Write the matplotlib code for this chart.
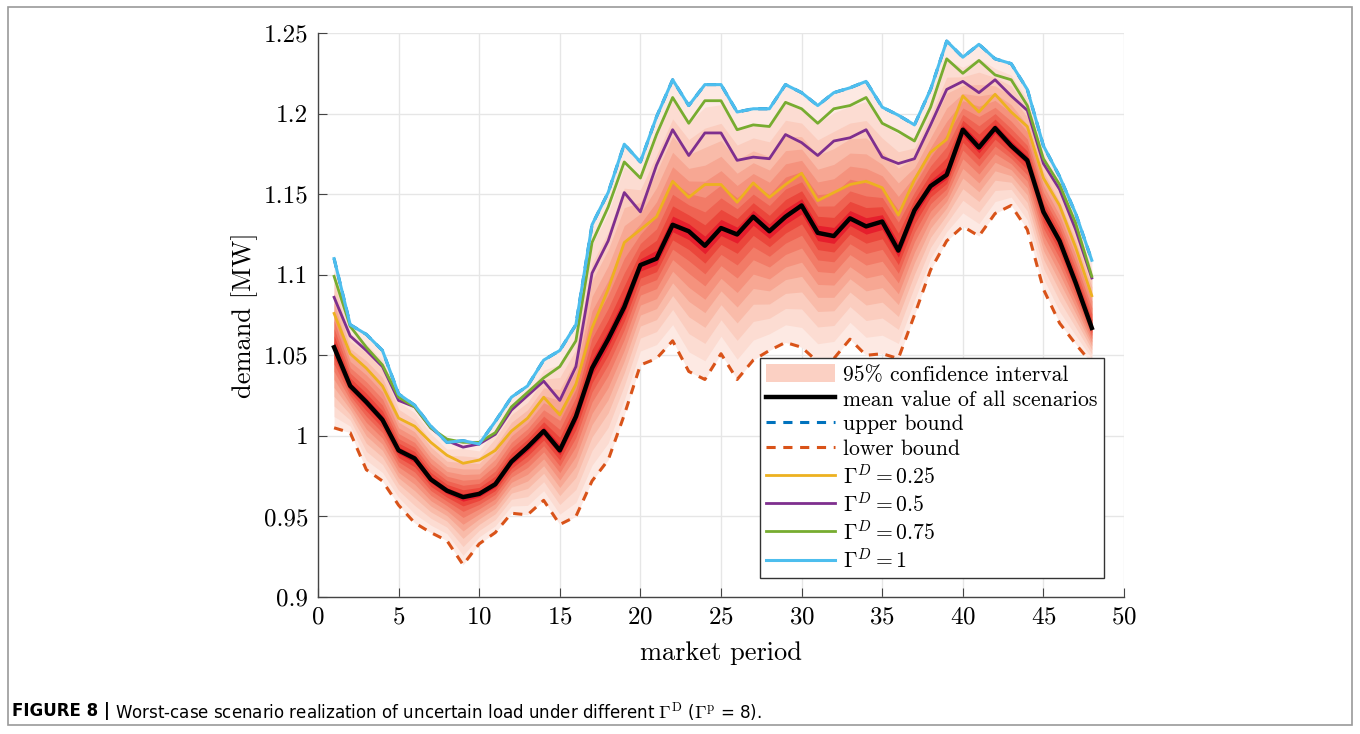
import numpy as np
import matplotlib
matplotlib.use('Agg')
import matplotlib.pyplot as plt
from matplotlib.patches import Patch, Rectangle
from matplotlib.lines import Line2D
from matplotlib.ticker import FuncFormatter

plt.rcParams['font.family'] = 'serif'
plt.rcParams['font.serif'] = ['cmr10']
plt.rcParams['mathtext.fontset'] = 'cm'
plt.rcParams['axes.formatter.use_mathtext'] = True

# market periods 1..48
period = np.arange(1, 49)

mean_val = [1.055, 1.031, 1.021, 1.010, 0.991, 0.986, 0.973, 0.966, 0.962, 0.964,
            0.970, 0.984, 0.993, 1.003, 0.991, 1.012, 1.042, 1.060, 1.080, 1.106,
            1.110, 1.131, 1.127, 1.118, 1.129, 1.125, 1.136, 1.127, 1.136, 1.143,
            1.126, 1.124, 1.135, 1.130, 1.133, 1.115, 1.140, 1.155, 1.162, 1.190,
            1.179, 1.191, 1.180, 1.171, 1.139, 1.121, 1.095, 1.067]

gamma_025 = [1.076, 1.051, 1.042, 1.031, 1.011, 1.006, 0.996, 0.988, 0.983, 0.985,
             0.991, 1.003, 1.011, 1.024, 1.013, 1.032, 1.067, 1.091, 1.120, 1.128,
             1.136, 1.158, 1.148, 1.156, 1.156, 1.145, 1.157, 1.148, 1.156, 1.163,
             1.146, 1.151, 1.156, 1.158, 1.154, 1.137, 1.159, 1.176, 1.184, 1.211,
             1.201, 1.212, 1.201, 1.192, 1.160, 1.143, 1.117, 1.087]

gamma_05 = [1.086, 1.062, 1.053, 1.043, 1.022, 1.018, 1.005, 0.997, 0.993, 0.995,
            1.001, 1.016, 1.025, 1.034, 1.022, 1.043, 1.101, 1.121, 1.151, 1.139,
            1.168, 1.190, 1.174, 1.188, 1.188, 1.171, 1.173, 1.172, 1.187, 1.182,
            1.174, 1.183, 1.185, 1.190, 1.173, 1.169, 1.172, 1.193, 1.215, 1.220,
            1.213, 1.221, 1.211, 1.202, 1.169, 1.153, 1.128, 1.098]

gamma_075 = [1.099, 1.068, 1.055, 1.044, 1.024, 1.018, 1.005, 0.998, 0.996, 0.996,
             1.002, 1.018, 1.027, 1.036, 1.043, 1.059, 1.120, 1.142, 1.170, 1.160,
             1.187, 1.210, 1.194, 1.208, 1.208, 1.190, 1.193, 1.192, 1.207, 1.203,
             1.194, 1.203, 1.205, 1.210, 1.194, 1.189, 1.183, 1.204, 1.234, 1.225,
             1.233, 1.224, 1.221, 1.205, 1.172, 1.156, 1.132, 1.099]

gamma_1 = [1.110, 1.069, 1.063, 1.053, 1.026, 1.019, 1.006, 0.996, 0.997, 0.995,
           1.009, 1.024, 1.031, 1.047, 1.053, 1.069, 1.131, 1.151, 1.181, 1.170,
           1.198, 1.221, 1.205, 1.218, 1.218, 1.201, 1.203, 1.203, 1.218, 1.213,
           1.205, 1.213, 1.216, 1.220, 1.204, 1.199, 1.193, 1.215, 1.245, 1.235,
           1.243, 1.234, 1.231, 1.215, 1.180, 1.161, 1.138, 1.109]

lower_bound = [1.005, 1.002, 0.979, 0.972, 0.957, 0.946, 0.940, 0.935, 0.920, 0.933,
               0.940, 0.952, 0.951, 0.960, 0.945, 0.950, 0.972, 0.985, 1.013, 1.044,
               1.048, 1.059, 1.040, 1.035, 1.051, 1.035, 1.047, 1.053, 1.058, 1.055,
               1.046, 1.048, 1.060, 1.050, 1.051, 1.048, 1.075, 1.103, 1.121, 1.130,
               1.124, 1.138, 1.143, 1.128, 1.091, 1.070, 1.057, 1.045]

# upper bound coincides with the Gamma^D = 1 curve
upper_bound = gamma_1

# fan shading: share of the distance from the mean to the bounds, outer to inner
band_levels = [1.0, 0.86, 0.73, 0.61, 0.5, 0.4, 0.3, 0.21, 0.13, 0.06]
band_colors = ['#fde9e3', '#fcdcd2', '#fbcdbf', '#f9bba9', '#f7a793',
               '#f5927d', '#f27b67', '#ef6352', '#eb463b', '#e61e2c']

fig = plt.figure(figsize=(13.6, 7.34), dpi=100)
ax = fig.add_axes([0.2338, 0.1866, 0.5927, 0.7684])

m = np.array(mean_val)
lo = np.array(lower_bound)
up = np.array(upper_bound)
for lev, col in zip(band_levels, band_colors):
    ax.fill_between(period, m - lev * (m - lo), m + lev * (up - m),
                    color=col, linewidth=0, zorder=1)

ax.plot(period, upper_bound, color='#0072BD', lw=2.2, ls=(0, (3, 2.5)), zorder=2)
ax.plot(period, lower_bound, color='#D95319', lw=2.2, ls=(0, (3, 2.5)), zorder=2)
ax.plot(period, gamma_025, color='#EDB120', lw=2.0, zorder=3)
ax.plot(period, gamma_05, color='#7E2F8E', lw=2.0, zorder=3)
ax.plot(period, gamma_075, color='#77AC30', lw=2.0, zorder=3)
ax.plot(period, gamma_1, color='#4DBEEE', lw=2.2, zorder=3)
ax.plot(period, mean_val, color='black', lw=3.2, zorder=4)

ax.set_xlim(0, 50)
ax.set_ylim(0.9, 1.25)
ax.set_xticks(np.arange(0, 51, 5))
ax.set_yticks([0.9, 0.95, 1.0, 1.05, 1.1, 1.15, 1.2, 1.25])
ax.yaxis.set_major_formatter(FuncFormatter(lambda v, p: '%g' % round(v, 2)))
ax.grid(True, color='#e6e6e6', lw=1.0, zorder=0)
ax.set_axisbelow(True)
for s in ['top', 'right']:
    ax.spines[s].set_visible(False)
for s in ['left', 'bottom']:
    ax.spines[s].set_color('#444444')
    ax.spines[s].set_linewidth(1.0)
ax.tick_params(direction='in', length=6.5, width=0.8, color='#444444',
               labelsize=18, pad=7)
ax.set_xlabel('market period', fontsize=19, labelpad=9)
ax.set_ylabel('demand [MW]', fontsize=19, labelpad=4)

handles = [
    Patch(facecolor='#fbd0c3', edgecolor='none'),
    Line2D([], [], color='black', lw=3.2),
    Line2D([], [], color='#0072BD', lw=2.2, ls=(0, (3, 2.5))),
    Line2D([], [], color='#D95319', lw=2.2, ls=(0, (3, 2.5))),
    Line2D([], [], color='#EDB120', lw=2.0),
    Line2D([], [], color='#7E2F8E', lw=2.0),
    Line2D([], [], color='#77AC30', lw=2.0),
    Line2D([], [], color='#4DBEEE', lw=2.2),
]
labels = ['95% confidence interval', 'mean value of all scenarios',
          'upper bound', 'lower bound',
          r'$\Gamma^D = 0.25$', r'$\Gamma^D = 0.5$',
          r'$\Gamma^D = 0.75$', r'$\Gamma^D = 1$']
leg = ax.legend(handles, labels, loc='lower right', bbox_to_anchor=(0.975, 0.034),
                fontsize=15.6, handlelength=3.2, handleheight=0.9,
                handletextpad=0.37, labelspacing=0.2, borderpad=0.28,
                borderaxespad=0.0,
                fancybox=False, framealpha=1, edgecolor='#333333')
leg.get_frame().set_linewidth(1.0)

fig.patches.append(Rectangle((0.006, 0.012), 0.988, 0.978, transform=fig.transFigure,
                             fill=False, edgecolor='#9a9a9a', lw=1.2))

cap_font = ['DejaVu Sans']
t1 = fig.text(12 / 1360, 0.031, 'FIGURE 8 |', fontsize=13.3, fontweight='bold',
              family=cap_font, fontstretch='condensed', va='center')
renderer = fig.canvas.get_renderer()
bb = t1.get_window_extent(renderer=renderer)
fig.text((bb.x1 + 5) / 1360, 0.031,
         'Worst-case scenario realization of uncertain load under different '
         r'$\mathrm{\Gamma}^{\mathrm{D}}$ ($\mathrm{\Gamma}^{\mathrm{p}}$ = 8).',
         fontsize=13.3, family=cap_font, fontstretch='condensed', va='center')

fig.savefig('out.png', dpi=100)
